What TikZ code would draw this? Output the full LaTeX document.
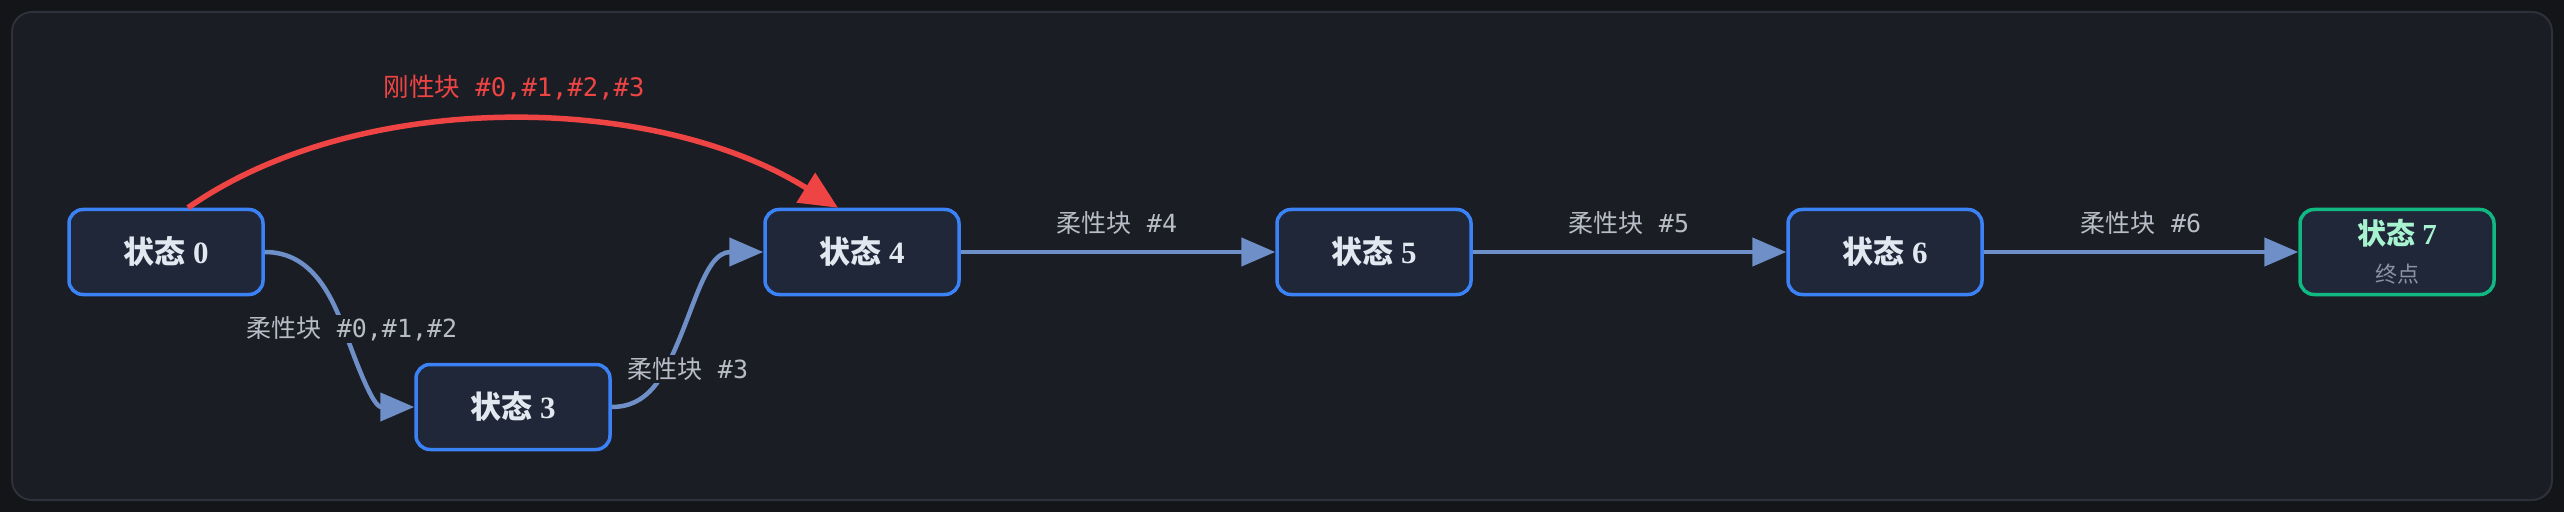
\documentclass[tikz,border=0pt]{standalone}
\usepackage{fontspec}
\setmainfont{Liberation Serif}
\newfontfamily\cjk{Noto Sans CJK SC}
\newfontfamily\lblmono{DejaVu Sans Mono}
\usetikzlibrary{arrows.meta}

\definecolor{outerbg}{HTML}{141518}
\definecolor{panelbg}{HTML}{1B1D24}
\definecolor{panelline}{HTML}{2E3139}
\definecolor{boxfill}{HTML}{1F2738}
\definecolor{boxblue}{HTML}{3B82F6}
\definecolor{boxgreen}{HTML}{10B981}
\definecolor{flexline}{HTML}{6F8FC9}
\definecolor{rigidred}{HTML}{EF4444}
\definecolor{statetext}{HTML}{E2E8F0}
\definecolor{endtext}{HTML}{A7F3D0}
\definecolor{subtext}{HTML}{8B93A1}
\definecolor{lbltext}{HTML}{B8BCC6}

\newcommand{\statename}[1]{{\cjk\bfseries 状态}\ \textbf{#1}}
\newcommand{\flexname}[1]{{\cjk 柔性块}{\lblmono\ #1}}

\tikzset{
  statebox/.style={rectangle, rounded corners=14pt, draw=boxblue, fill=boxfill,
    line width=3.5pt, minimum width=194pt, minimum height=85pt, inner sep=0pt,
    text=statetext, font=\fontsize{31pt}{36pt}\selectfont},
  endbox/.style={statebox, draw=boxgreen, text=endtext, align=center,
    font=\fontsize{29pt}{38pt}\selectfont},
  flexedge/.style={draw=flexline, line width=4.5pt, -{Triangle[length=34pt,width=28pt]}},
  rigidedge/.style={draw=rigidred, line width=5.5pt, -{Triangle[length=38pt,width=34pt]}},
  flexlbl/.style={fill=panelbg, text=lbltext, inner sep=2pt,
    font=\fontsize{25pt}{30pt}\selectfont},
  rigidlbl/.style={text=rigidred, inner sep=0pt, font=\fontsize{25.5pt}{30pt}\selectfont},
}

\begin{document}
\begin{tikzpicture}[x=1pt, y=1pt]
\fill[outerbg] (0,0) rectangle (2564,512);
\draw[fill=panelbg, draw=panelline, line width=2pt, rounded corners=20pt] (12,12) rectangle (2552,500);

\node[statebox] (S0) at (166,260) {\statename{0}};
\node[statebox] (S3) at (513,105) {\statename{3}};
\node[statebox] (S4) at (862,260) {\statename{4}};
\node[statebox] (S5) at (1374,260) {\statename{5}};
\node[statebox] (S6) at (1885,260) {\statename{6}};
\node[endbox] (S7) at (2397,260) {\statename{7}\\{\fontsize{22pt}{26pt}\selectfont\cjk\color{subtext}终点}};

\coordinate (R0) at ([xshift=22pt]S0.north);
\coordinate (R4) at ([xshift=-24pt]S4.north);
\coordinate (K03) at (344,183);
\coordinate (K34) at (665,142);

\draw[rigidedge] (R0) .. controls +(35:207) and +(148:219) .. (R4);
\draw[flexedge] (S0.east) to[out=0,in=110] (K03) to[out=-70,in=180] (S3.west);
\draw[flexedge] (S3.east) to[out=0,in=-118] (K34) to[out=62,in=180] (S4.west);
\draw[flexedge] (S4) -- (S5);
\draw[flexedge] (S5) -- (S6);
\draw[flexedge] (S6) -- (S7);

\node[rigidlbl] (L04) at (514,424) {{\cjk 刚性块}{\lblmono\ \#0,\#1,\#2,\#3}};
\node[flexlbl] (L03) at (352,183) {\flexname{\#0,\#1,\#2}};
\node[flexlbl] (L34) at (688,143) {\flexname{\#3}};
\node[flexlbl] (L45) at (1117,289) {\flexname{\#4}};
\node[flexlbl] (L56) at (1629,289) {\flexname{\#5}};
\node[flexlbl] (L67) at (2141,289) {\flexname{\#6}};
\end{tikzpicture}
\end{document}
